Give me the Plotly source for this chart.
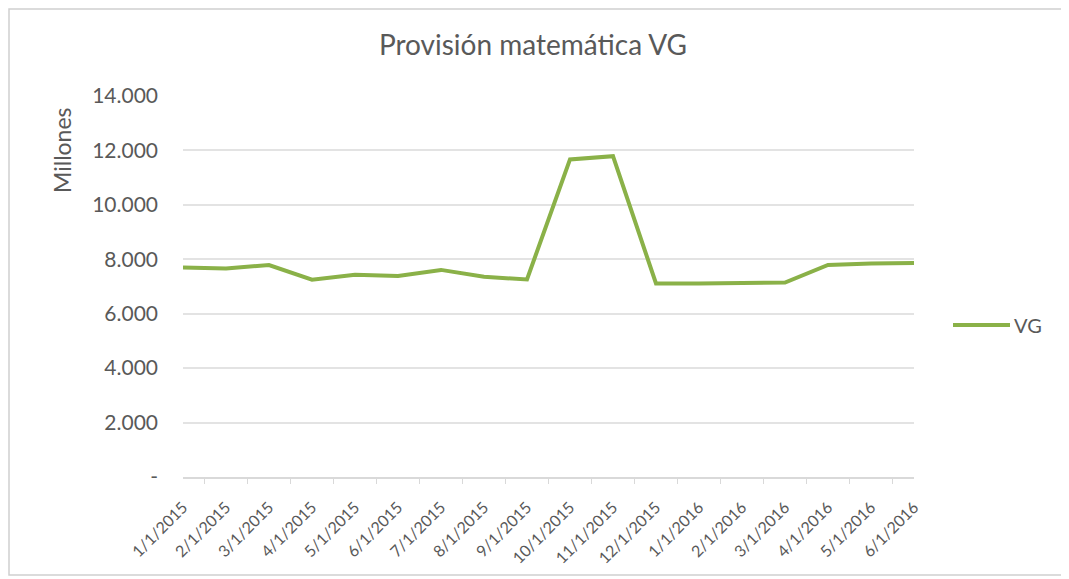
import plotly.graph_objects as go

categories = ["1/1/2015", "2/1/2015", "3/1/2015", "4/1/2015", "5/1/2015", "6/1/2015",
              "7/1/2015", "8/1/2015", "9/1/2015", "10/1/2015", "11/1/2015", "12/1/2015",
              "1/1/2016", "2/1/2016", "3/1/2016", "4/1/2016", "5/1/2016", "6/1/2016"]
vg_values = [7700, 7660, 7790, 7250, 7430, 7390, 7610, 7355, 7260, 11670, 11790, 7110,
             7110, 7115, 7145, 7790, 7845, 7860]
y_tick_vals = [0, 2000, 4000, 6000, 8000, 10000, 12000, 14000]
y_tick_text = ["-", "2.000", "4.000", "6.000", "8.000", "10.000", "12.000", "14.000"]

font_family = "Lato, Open Sans, sans-serif"
grey = "#595959"
green = "#8AB148"

# plot area geometry (figure pixels)
L, T, W, H = 175, 88, 731, 381
FW, FH = 1069, 579


def px_x(px):
    return (px - L) / W


def px_y(py):
    return (T + H - py) / H


fig = go.Figure()
fig.add_trace(go.Scatter(
    x=categories, y=vg_values, mode="lines", name="VG",
    line=dict(color=green, width=4), showlegend=False,
))

fig.update_layout(
    width=FW, height=FH,
    margin=dict(l=L, r=FW - L - W, t=T, b=FH - T - H),
    paper_bgcolor="white", plot_bgcolor="white",
    title=dict(text="Provisión matemática VG", x=525 / FW, xanchor="center",
               y=1 - 37 / FH, yanchor="middle",
               font=dict(family=font_family, size=28, color=grey)),
    font=dict(family=font_family, color=grey, size=18),
    showlegend=False,
    xaxis=dict(
        type="category", tickangle=-45, tickson="boundaries",
        ticks="outside", ticklen=5, tickcolor="#d9d9d9",
        showline=True, linecolor="#d9d9d9", linewidth=1.5,
        showgrid=False, tickfont=dict(size=16, color=grey),
        ticklabelstandoff=13,
    ),
    yaxis=dict(
        range=[0, 14000], tickvals=y_tick_vals, ticktext=y_tick_text,
        showgrid=True, gridcolor="#e3e3e3", gridwidth=1.5,
        zeroline=False, showline=False, ticks="",
        tickfont=dict(size=21, color=grey),
        ticklabelstandoff=24,
    ),
    annotations=[
        dict(text="Millones", textangle=-90, xref="paper", yref="paper",
             x=px_x(54), y=px_y(142), xanchor="center", yanchor="middle",
             showarrow=False, font=dict(size=23, color=grey)),
        dict(text="VG", xref="paper", yref="paper",
             x=px_x(1004), y=px_y(317), xanchor="left", yanchor="middle",
             showarrow=False, font=dict(size=20, color=grey)),
    ],
    shapes=[
        dict(type="rect", xref="paper", yref="paper",
             x0=px_x(1), x1=px_x(1054), y0=px_y(567), y1=px_y(1),
             line=dict(color="#d0d0d0", width=1.5), fillcolor="rgba(0,0,0,0)",
             layer="below"),
        dict(type="line", xref="paper", yref="paper",
             x0=px_x(945), x1=px_x(1002), y0=px_y(317), y1=px_y(317),
             line=dict(color=green, width=4)),
    ],
)

fig.write_html("out.html")
